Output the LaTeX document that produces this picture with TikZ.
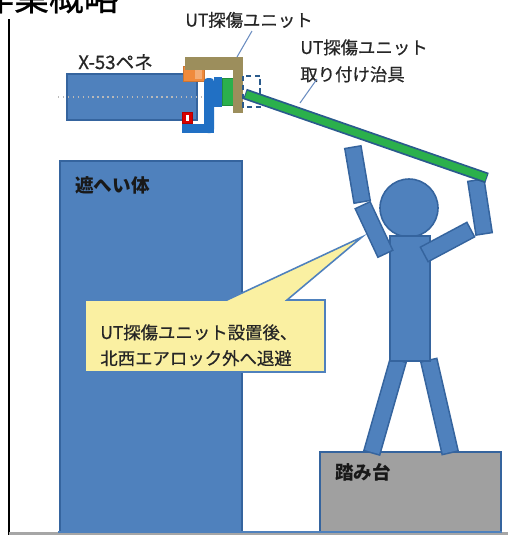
\documentclass[tikz,border=0pt]{standalone}
\usepackage{fontspec}
\setmainfont{Noto Sans CJK JP}
\newfontfamily\medium[FakeBold=0.7]{Noto Sans CJK JP}
\begin{document}
\definecolor{pblue}{HTML}{4F81BD}
\definecolor{pedge}{HTML}{35649E}
\definecolor{bracket}{HTML}{2170C4}
\definecolor{olive}{HTML}{9C8E5C}
\definecolor{jig}{HTML}{2BB04C}
\definecolor{jigedge}{HTML}{2A5A8C}
\definecolor{orng}{HTML}{F08A3C}
\definecolor{stool}{HTML}{A0A0A0}
\definecolor{note}{HTML}{FAF0A2}
\definecolor{leader}{HTML}{6A8CC0}
\tikzset{
  part/.style={fill=pblue, draw=pedge, line width=0.9pt},
  limbedge/.style={draw=pedge, line width=10.2pt, shorten <=-0.9pt, shorten >=-0.9pt},
  limbfill/.style={draw=pblue, line width=8.4pt},
  lead/.style={draw=leader, line width=0.6pt},
  lbl/.style={inner sep=0pt, anchor=west, font=\medium\fontsize{9.9}{15.3}\selectfont, text=black!85},
  bold/.style={inner sep=0pt, anchor=west, font=\fontsize{10.6}{13}\selectfont\bfseries, text=black!90}
}
\newcommand\limb[2]{\draw[limbedge] #1 -- #2; \draw[limbfill] #1 -- #2;}
\begin{tikzpicture}[x=0.02cm, y=-0.02cm]
\useasboundingbox (0,0) rectangle (508,535);

% heading, partly above the page edge
\node[inner sep=0pt, anchor=base west, font=\medium\fontsize{19.8}{22}\selectfont] (title) at (-21,10.5) {作業概略};

% frame lines
\draw[line width=1.3pt] (9,19) -- (9,535);
\draw[gray!70, line width=1.2pt] (9,533.5) -- (508,533.5);

% shield and step stool
\draw[part] (60,161) rectangle (242,532);
\node[bold] (shieldlbl) at (75,185) {遮へい体};
\draw[fill=stool, draw=pedge, line width=0.9pt] (320,452) rectangle (501,532);
\node[bold] (stoollbl) at (335,472) {踏み台};
\draw[pblue, line width=1.2pt] (58,532) -- (502,532);

% penetration with the UT unit
\draw[part] (67,74) rectangle (197,120);
\draw[gray!55, dotted, line width=0.8pt] (58,97) -- (262,97);
\node[lbl, font=\medium\fontsize{10.6}{13}\selectfont] (penelbl) at (78,62) {X-53ペネ};
\draw[fill=orng, draw=orng!85!black, line width=0.5pt] (183,66) rectangle (204,81);
\draw[fill=orng!70, draw=none] (195,70) rectangle (202,79);
\draw[fill=red!85!black, draw=red!70!black, line width=0.5pt] (182,112) rectangle (192,123);
\draw[fill=white, draw=none] (186,115) rectangle (189,121);
\draw[fill=bracket, draw=none, rounded corners=2pt] (204,78) rectangle (214,133);
\draw[fill=bracket, draw=none] (182,124) rectangle (214,133);
\draw[fill=bracket, draw=none] (214,77) rectangle (222,107);
\draw[fill=jig, draw=jig!80!black, line width=0.4pt] (222,78) rectangle (235,105);
\draw[fill=olive, draw=none] (185,57) rectangle (243,70);
\draw[fill=olive, draw=none] (233,57) rectangle (243,113);
\draw[jigedge, dashed, line width=1.2pt, dash pattern=on 3pt off 2pt] (243,76) rectangle (260,107);

% labels and leader lines
\coordinate (unitpt) at (237,57);
\coordinate (jigpt) at (300,103);
\node[lbl] (unitlbl) at (185,20) {UT探傷ユニット};
\node[lbl, align=left, anchor=north west] (jiglbl) at (300,39) {UT探傷ユニット\\取り付け治具};
\draw[lead] (unitpt) -- (252,31);
\draw[lead] (jigpt) -- (317,79);

% speech callout
\draw[fill=note, draw=pblue, line width=0.9pt]
  (85,300) -- (227,300) -- (362,237) -- (287,300) -- (325,300) -- (325,372) -- (85,372) -- cycle;
\node[inner sep=0pt, anchor=north west, align=left, font=\medium\fontsize{9.9}{14.7}\selectfont, text=black!85] (notetxt) at (100,324)
  {UT探傷ユニット設置後、\\北西エアロック外へ退避};

% worker
\limb{(398,361)}{(372,452)}
\limb{(429,361)}{(450,452)}
\draw[part] (409,208) circle (29);
\draw[part] (390,236) rectangle (430,361);
\limb{(353,148)}{(362,201)}
\limb{(363,206)}{(385,253)}
\limb{(425,254)}{(470,230)}
\limb{(476,181)}{(484,233)}

% mounting jig pole
\draw[jigedge, line width=6.2pt] (245,94) -- (487,178);
\draw[jig, line width=4.2pt] (246,94.4) -- (486,177.6);
\end{tikzpicture}
\end{document}
